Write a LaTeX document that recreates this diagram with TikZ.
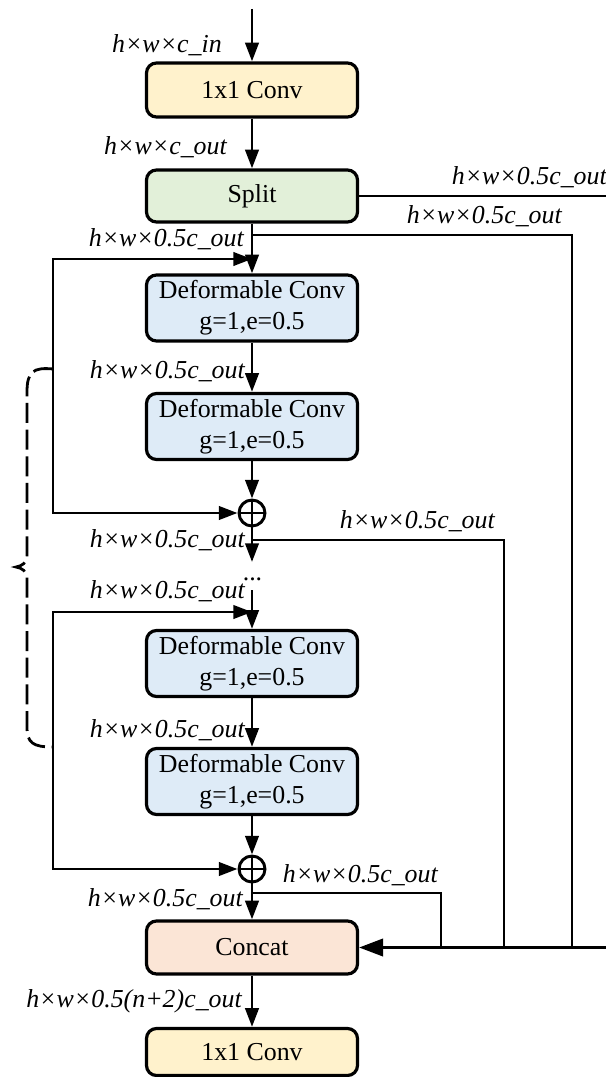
\documentclass[tikz,border=0pt]{standalone}
\usepackage{fontspec}
\setmainfont{Liberation Serif}
\usetikzlibrary{arrows.meta}

\definecolor{convfill}{HTML}{FFF2CC}
\definecolor{splitfill}{HTML}{E2F0D9}
\definecolor{deffill}{HTML}{DEEBF7}
\definecolor{catfill}{HTML}{FBE5D6}

\newcommand\dfont{\fontsize{19.4pt}{23.2pt}\selectfont}

\tikzset{
  blk/.style={draw, line width=2.4pt, rounded corners=7.5pt, minimum width=158.25pt,
              inner sep=0pt, align=center, font=\dfont},
  plusn/.style={circle, draw, line width=2.2pt, minimum size=19.5pt, inner sep=0pt, fill=white,
                path picture={\draw[line width=2.2pt]
                  (path picture bounding box.north) -- (path picture bounding box.south)
                  (path picture bounding box.west) -- (path picture bounding box.east);}},
  ln/.style={line width=2.2pt},
  arr/.style={ln, -{Triangle[length=14pt,width=10pt]}},
  arrboth/.style={ln, {Triangle[length=14pt,width=10pt]}-{Triangle[length=14pt,width=10pt]}},
  bigarr/.style={ln, -{Triangle[length=18pt,width=13pt]}},
  lbl/.style={font={\dfont\itshape}, inner sep=0pt, anchor=base east},
  bracestyle/.style={line width=2.1pt, dash pattern=on 15pt off 5pt}
}

\begin{document}
\begin{tikzpicture}[x=0.75pt,y=-0.75pt]
\useasboundingbox (0,0) rectangle (606,1077);
\clip (0,0) rectangle (606,1077);

% blocks of the main column
\node[blk, fill=convfill, minimum height=40.5pt] (conv1) at (252,90) {1x1 Conv};
\node[blk, fill=splitfill, minimum height=39pt] (split) at (252,196) {Split};
\node[blk, fill=deffill, minimum height=49.5pt] (d1) at (252,308) {Deformable Conv\\g=1,e=0.5};
\node[blk, fill=deffill, minimum height=49.5pt] (d2) at (252,426.5) {Deformable Conv\\g=1,e=0.5};
\node[plusn] (p1) at (252,513) {};
\node[blk, fill=deffill, minimum height=49.5pt] (d3) at (252,663.5) {Deformable Conv\\g=1,e=0.5};
\node[blk, fill=deffill, minimum height=49.5pt] (d4) at (252,781.5) {Deformable Conv\\g=1,e=0.5};
\node[plusn] (p2) at (252,869) {};
\node[blk, fill=catfill, minimum height=39.75pt] (concat) at (252,947.5) {Concat};
\node[blk, fill=convfill, minimum height=35.25pt] (conv2) at (252,1052) {1x1 Conv};
\node[font=\dfont, inner sep=0pt, anchor=base] (dots) at (252.5,580) {...};

% junction points
\coordinate (top) at (252,9);
\coordinate (j1) at (252,259);
\coordinate (l1a) at (53,259);
\coordinate (l1b) at (53,513);
\coordinate (j2) at (252,612);
\coordinate (l2a) at (53,612);
\coordinate (l2b) at (53,869);
\coordinate (c1end) at (252,562);
\coordinate (c2start) at (252,590);
\coordinate (s1r) at (620,196);
\coordinate (s1d) at (620,947.5);
\coordinate (b1) at (252,235);
\coordinate (b1r) at (572,235);
\coordinate (b1d) at (572,947.5);
\coordinate (b2) at (252,540);
\coordinate (b2r) at (504,540);
\coordinate (b2d) at (504,947.5);
\coordinate (b3) at (252,893);
\coordinate (b3r) at (441,893);
\coordinate (b3d) at (441,947.5);

% main flow
\draw[arr] (top) -- (conv1);
\draw[arr] (conv1) -- (split);
\draw[arr] (split) -- (d1);
\draw[arr] (d1) -- (d2);
\draw[arr] (d2) -- (p1);
\draw[arr] (p1) -- (c1end);
\draw[arr] (c2start) -- (d3);
\draw[arr] (d3) -- (d4);
\draw[arr] (d4) -- (p2);
\draw[arr] (p2) -- (concat);
\draw[arr] (concat) -- (conv2);

% residual loops
\draw[arrboth] (j1) -- (l1a) -- (l1b) -- (p1);
\draw[arrboth] (j2) -- (l2a) -- (l2b) -- (p2);

% branches into Concat
\draw[bigarr] (split) -- (s1r) -- (s1d) -- (concat);
\draw[ln] (b1) -- (b1r) -- (b1d);
\draw[ln] (b2) -- (b2r) -- (b2d);
\draw[ln] (b3) -- (b3r) -- (b3d);

% dashed brace over the repeated blocks
\draw[bracestyle] (53,369) .. controls (33,367) and (27,372) .. (27,392) -- (27,555)
  .. controls (27,563) and (22,566) .. (16,567) .. controls (22,568) and (27,571) .. (27,579)
  -- (27,727) .. controls (27,743) and (33,747) .. (53,747);

% tensor shape labels
\node[lbl] (t1) at (222,53) {h×w×c\_in};
\node[lbl] (t2) at (227,155) {h×w×c\_out};
\node[lbl] (t3) at (244,246) {h×w×0.5c\_out};
\node[lbl] (t4) at (607,185) {h×w×0.5c\_out};
\node[lbl] (t5) at (562,223) {h×w×0.5c\_out};
\node[lbl] (t6) at (245,378) {h×w×0.5c\_out};
\node[lbl] (t7) at (495,528) {h×w×0.5c\_out};
\node[lbl] (t8) at (245,547) {h×w×0.5c\_out};
\node[lbl] (t9) at (245,598) {h×w×0.5c\_out};
\node[lbl] (t10) at (245,737) {h×w×0.5c\_out};
\node[lbl] (t11) at (438,882) {h×w×0.5c\_out};
\node[lbl] (t12) at (243,906) {h×w×0.5c\_out};
\node[lbl] (t13) at (242,1007) {h×w×0.5(n+2)c\_out};
\end{tikzpicture}
\end{document}
